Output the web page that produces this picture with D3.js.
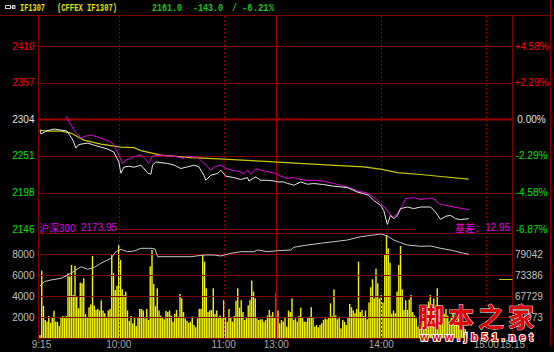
<!DOCTYPE html>
<html><head><meta charset="utf-8">
<script src="https://cdn.jsdelivr.net/npm/d3@7"></script>
<style>html,body{margin:0;padding:0;background:#000;overflow:hidden}</style>
</head><body><svg id="c" width="554" height="352"></svg>
<script>
// ---------- data ----------
const prevClose = 2304;
const pctTicks = [4.58, 2.29, 0, -2.29, -4.58, -6.87];
const priceTickLabels = ["2410", "2357", "2304", "2251", "2198", "2146"];
const pctTickLabels = ["+4.58%", "+2.29%", "0.00%", "-2.29%", "-4.58%", "-6.87%"];
const volTicks = [2000, 4000, 6000, 8000];
const volMax = 10000;
const oiTicks = [62073, 67729, 73386, 79042];
const timeLabels = ["9:15", "10:00", "11:00", "13:00", "14:00", "15:00", "15:15"];
const timeMinutes = [0, 45, 105, 135, 195, 255, 270];
const dashedMinutes = [45, 105, 195, 255];
const middayMinute = 135;
const totalMinutes = 270;

// IF1307 price [minute, price]
const ifPrice = [[0,2288.5],[0.6,2282.8],[3.4,2287.1],[8,2290],[12,2288.5],[15.4,2287.1],[17.7,2278.4],[18.8,2274.1],[20.5,2262.6],[21.7,2266.9],[23.4,2268.3],[27.4,2269.8],[30.8,2266.9],[34.8,2264],[38.8,2261.1],[42.2,2256.8],[45.1,2242.3],[46.2,2226.4],[47.9,2235.1],[50.8,2236.5],[53.7,2235.1],[57.7,2238],[61.5,2226.9],[63.4,2225],[64.3,2238],[66.2,2242.8],[69.1,2241.6],[72.9,2240.5],[76.7,2238],[80.5,2233.2],[84.3,2235.6],[87.9,2238],[90.8,2235.6],[93.6,2223.6],[94.8,2216.3],[97.6,2223.6],[101.4,2226],[103.3,2230.8],[106.2,2222.1],[110.7,2220.2],[114.7,2217.4],[118.6,2220.2],[119.3,2215.3],[123.3,2221.1],[126.1,2216.3],[129.6,2216.3],[133.6,2215.3],[135.7,2213.9],[139.3,2213.9],[141.4,2211.6],[143.3,2210.6],[145,2209.1],[149,2213.9],[152.8,2210.6],[156.4,2211.6],[162.1,2210.1],[167.8,2207.7],[175.6,2205.8],[181.3,2199.4],[184.9,2197.1],[187.8,2194.7],[190.6,2187.5],[194.6,2180.2],[196.4,2173],[198.5,2152.8],[200.3,2165.8],[202.1,2161],[204.2,2165.8],[206.1,2175.5],[209.9,2177.8],[213.5,2175.5],[217.5,2177.8],[223.2,2177.8],[226,2170.6],[228.9,2160],[231.7,2164.4],[234.6,2165.8],[237.5,2161],[240.3,2159.6],[245,2161]];

// CSI 300 index [minute, value]
const hs300 = [[14.8,2308.8],[16.6,2300.1],[17.7,2295.8],[20.5,2284.2],[23.4,2277],[26.3,2279.9],[29.1,2281.3],[34.8,2277],[40.5,2271.2],[42.2,2266.9],[45.1,2252.4],[47.2,2240.5],[49.1,2245.2],[53.7,2250],[57.7,2253.2],[60.5,2246.2],[62.2,2240.5],[64.3,2251],[69.1,2252.4],[74.8,2251],[78.6,2250],[81.5,2247.7],[84.3,2251],[90,2249.1],[92.9,2242.8],[95.7,2235.6],[97.6,2230.8],[99.5,2235.6],[103.3,2238],[106.2,2233.2],[112.8,2229.3],[116.6,2226],[118.6,2230.8],[120.4,2225],[123.3,2233.2],[126.1,2230.8],[133.6,2226.9],[134.7,2225.7],[137.6,2222.1],[141.4,2218.8],[145,2220.2],[149,2217.4],[152.8,2216.3],[156.4,2216.3],[162.1,2214.9],[167.8,2211.6],[175.6,2206.7],[181.3,2200.9],[187,2198],[190.6,2192.2],[194.6,2182.7],[198.5,2173],[200.3,2165.8],[202.1,2163.4],[204.2,2168.2],[207.1,2180.2],[209,2189.9],[213.5,2191.4],[217.5,2188.5],[223.2,2190.8],[224.9,2189.9],[227.8,2182.7],[231.7,2180.2],[236.3,2177.8],[245,2173.95]];

// average price [minute, price]
const avgPrice = [[0,2288.5],[3.4,2287.1],[12,2287.1],[17.7,2284.2],[25.1,2274.1],[34.8,2268.3],[46.2,2264],[53.7,2263.3],[57.7,2259],[69.1,2252.4],[86.2,2248.8],[105,2246.7],[126.1,2243.8],[143.3,2241.3],[166.1,2238],[184.9,2235.5],[194.6,2232.2],[204.3,2227.2],[217.5,2224.6],[228.9,2221.7],[245,2218]];

// open interest [minute, lots]
const openInterest = [[0,70503],[2.5,71662],[6.3,72120],[12,72577],[17.7,73924],[23.4,75702],[27.2,75002],[31,75540],[34.8,76618],[40.5,77965],[43.4,79742],[46.2,80389],[50,79742],[53.8,79931],[57.7,80658],[63.4,80658],[65.7,80470],[67.2,78396],[76.7,78396],[86.2,78396],[93.8,78853],[99.5,78853],[103.3,78584],[109,79311],[114.7,79742],[122.2,79742],[124.3,80200],[130,79742],[135.7,80012],[143.3,80200],[145,80928],[152.8,81547],[160.4,82005],[167.8,82436],[175.6,82894],[183.2,83783],[190.6,84241],[194.6,84510],[198.5,83971],[202.1,82894],[206.1,82166],[209.9,81547],[217.5,81197],[223.2,81278],[228.9,80658],[234.6,80200],[242,79311],[245,79042]];
const oiMarker = 72300;

// per-minute volume
const volMorning = [310,6440,3076,1743,1580,2124,1490,2000,2630,1580,1580,1170,2000,2124,2060,2124,6190,5870,6980,4120,6900,4030,2860,5300,5240,5710,2310,2000,2950,3220,7840,3120,2700,2800,2650,3600,2650,2390,2000,2650,2800,7930,6190,4600,5000,8890,7460,4660,4120,4440,2650,1650,2120,1430,2000,1170,2060,2800,
2800,2650,1900,2800,1750,6850,8410,5170,3060,4760,2650,2170,2000,1810,2600,2500,2650,2170,1580,2330,2700,2060,4220,3800,2500,1900,1680,1490,1580,2060,1270,1050,1900,2800,2800,8030,7300,4760,2500,2650,2700,4760,2330,2650,2000,2170,1900,3630,2000,1580,2800,2000,1580,2120,3570,4760,2920,3630,2500,1750,2000,3140,3630,5500,4440,3800,1900,1750,1810,1810,1580,1750,2170,2700,2170,2500,2000];
const volAfternoon = [4340,2650,
1430,1750,1580,2000,1110,2650,2500,3800,1750,1900,1580,2120,2920,2000,1580,1580,2000,2060,2960,2000,1110,1270,1050,1270,1430,1750,1900,1810,2000,3330,2120,4660,2170,1810,2060,950,1750,1580,1270,2000,3270,2960,2650,2390,2800,7300,2500,2700,2120,2650,1810,3410,4860,5620,3800,6630,5240,3800,4120,3410,7930,9840,8570,7200,2330,2650,2390,4440,6980,8780,4660,2700,3630,2700,3700,4120,2500,2170,1900,1110,
1110,1900,1750,2400,2960,3500,4120,2600,3800,2200,4760,3100,2650,1900,2330,2800,2170,1600,2060,2500,1800,1430,2100,1750,1300,1110,900,650];

// ---------- drawing ----------
const svg = d3.select("#c");
svg.append("rect").attr("width",554).attr("height",352).attr("fill","#000");

const x = d3.scaleLinear().domain([0, totalMinutes]).range([40, 512.5]);
const yPrice = d3.scaleLinear()
  .domain([prevClose*(1+pctTicks[5]/100), prevClose*(1+pctTicks[0]/100)])
  .range([229.3, 46]);
const yVol = d3.scaleLinear().domain([0, volMax]).range([338.3, 233.3]);
const oiStep = (oiTicks[3]-oiTicks[0])/3;
const yOI = d3.scaleLinear().domain([oiTicks[0]-oiStep, oiTicks[3]+oiStep]).range([338.3, 233.3]);

const grid = "#800000";
const snap = v => Math.round(v) + 0.5;
const L = 38.5, R = 512.5;

// frame lines
svg.append("line").attr("x1",0).attr("x2",551).attr("y1",15.5).attr("y2",15.5).attr("stroke",grid);
svg.append("line").attr("x1",L).attr("x2",L).attr("y1",15.5).attr("y2",340).attr("stroke",grid);
svg.append("line").attr("x1",R).attr("x2",R).attr("y1",15.5).attr("y2",340).attr("stroke",grid);
svg.append("line").attr("x1",550.5).attr("x2",550.5).attr("y1",0).attr("y2",346).attr("stroke",grid);

// volume bars
const volData = volMorning.map((v,i)=>({m:i, v})).concat(volAfternoon.map((v,j)=>({m:middayMinute+j, v})));
svg.append("g").selectAll("rect").data(volData).join("rect")
  .attr("x", d => x(d.m) - 0.7).attr("width", 1.4)
  .attr("y", d => yVol(d.v)).attr("height", d => yVol(0) - yVol(d.v))
  .attr("fill", "#f4f400");

// horizontal grid: price
const gH = svg.append("g");
pctTicks.forEach((p,i) => {
  const yy = snap(yPrice(prevClose*(1+p/100)));
  gH.append("line").attr("x1",L).attr("x2",R).attr("y1",yy).attr("y2",yy)
    .attr("stroke", p===0 ? "#a00000" : grid).attr("stroke-width", p===0 ? 2.2 : 1);
});
// volume grid
volTicks.concat([0, volMax]).forEach(v => {
  const yy = snap(yVol(v));
  gH.append("line").attr("x1",L).attr("x2",R).attr("y1",yy).attr("y2",yy).attr("stroke",grid);
});

// vertical grid
dashedMinutes.forEach(m => {
  svg.append("line").attr("x1",snap(x(m))).attr("x2",snap(x(m))).attr("y1",16).attr("y2",338)
    .attr("stroke",grid).attr("stroke-dasharray","2,2");
});
svg.append("line").attr("x1",snap(x(middayMinute))).attr("x2",snap(x(middayMinute))).attr("y1",16).attr("y2",338)
  .attr("stroke","#a00000");

// lines
const line = d3.line().x(d => x(d[0]));
svg.append("path").datum(avgPrice).attr("d", line.y(d => yPrice(d[1]))).attr("fill","none").attr("stroke","#c8c800").attr("stroke-width",1.2);
svg.append("path").datum(hs300).attr("d", line.y(d => yPrice(d[1]))).attr("fill","none").attr("stroke","#e000e0").attr("stroke-width",1);
svg.append("path").datum(ifPrice).attr("d", line.y(d => yPrice(d[1]))).attr("fill","none").attr("stroke","#e8e8e8").attr("stroke-width",1);
svg.append("path").datum(openInterest).attr("d", line.y(d => yOI(d[1]))).attr("fill","none").attr("stroke","#c8c8c8").attr("stroke-width",1);
svg.append("line").attr("x1",499).attr("x2",R).attr("y1",snap(yOI(oiMarker))).attr("y2",snap(yOI(oiMarker))).attr("stroke","#c8c800");

// label boxes in price panel bottom
svg.append("rect").attr("x",39).attr("y",221).attr("width",76).attr("height",11).attr("fill","#000");
svg.append("rect").attr("x",415).attr("y",221).attr("width",97).attr("height",11).attr("fill","#000");
const mag = "#e000e0";
const tf = "'Liberation Sans', Arial, sans-serif";
svg.append("text").attr("x",39).attr("y",227.5).attr("dominant-baseline","central").attr("fill",mag)
  .attr("font-family","'Noto Sans CJK SC', sans-serif").attr("font-size",10).text("沪深300");
svg.append("text").attr("x",81).attr("y",227.5).attr("dominant-baseline","central").attr("fill",mag)
  .attr("font-family",tf).attr("font-size",10).text("2173.95");
svg.append("text").attr("x",455).attr("y",227.5).attr("dominant-baseline","central").attr("fill",mag)
  .attr("font-family","'Noto Sans CJK SC', sans-serif").attr("font-size",10).text("基差：");
svg.append("text").attr("x",485).attr("y",227.5).attr("dominant-baseline","central").attr("fill",mag)
  .attr("font-family",tf).attr("font-size",10).text("12.95");

// axis labels
const colorFor = p => p > 0 ? "#ff0000" : (p < 0 ? "#00e000" : "#e0e0e0");
pctTicks.forEach((p,i) => {
  const yy = yPrice(prevClose*(1+p/100));
  svg.append("text").attr("x",34.5).attr("y",yy).attr("text-anchor","end").attr("dominant-baseline","central")
    .attr("fill",colorFor(p)).attr("font-family",tf).attr("font-size",10).text(priceTickLabels[i]);
  svg.append("text").attr("x",531.5).attr("y",yy).attr("text-anchor","middle").attr("dominant-baseline","central")
    .attr("fill",colorFor(p)).attr("font-family",tf).attr("font-size",10).text(pctTickLabels[i]);
});
volTicks.forEach(v => {
  svg.append("text").attr("x",34.5).attr("y",yVol(v)).attr("text-anchor","end").attr("dominant-baseline","central")
    .attr("fill","#c0c0c0").attr("font-family",tf).attr("font-size",10).text(v);
});
oiTicks.forEach(v => {
  svg.append("text").attr("x",515).attr("y",yOI(v)).attr("dominant-baseline","central")
    .attr("fill","#c0c0c0").attr("font-family",tf).attr("font-size",10).text(v);
});
timeLabels.forEach((t,i) => {
  svg.append("text").attr("x", x(timeMinutes[i]) + (i===0 ? 1.5 : 0)).attr("y",344.5).attr("text-anchor","middle").attr("dominant-baseline","central")
    .attr("fill","#a8a8a8").attr("font-family",tf).attr("font-size",10).text(t);
});

// header
const hg = svg.append("g");
hg.append("rect").attr("x",5.5).attr("y",5.5).attr("width",5).attr("height",3).attr("fill","none").attr("stroke","#d0d0d0");
hg.append("line").attr("x1",10.5).attr("x2",15).attr("y1",7).attr("y2",7).attr("stroke","#d0d0d0");
hg.append("rect").attr("x",12.5).attr("y",5.5).attr("width",2.5).attr("height",3).attr("fill","none").attr("stroke","#d0d0d0");
const mono = "'Liberation Mono', 'DejaVu Sans Mono', monospace";
const hdr = [
  {t:"IF1307", x:20, w:25, c:"#e0e000"},
  {t:"(CFFEX IF1307)", x:57, w:60, c:"#e0e000"},
  {t:"2161.0", x:152, w:30, c:"#20c020"},
  {t:"-143.0", x:193, w:30, c:"#20c020"},
  {t:"/", x:232, w:5, c:"#20c020"},
  {t:"-6.21%", x:242, w:32, c:"#20c020"}
];
hdr.forEach(h => {
  hg.append("text").attr("x",h.x).attr("y",11).attr("fill",h.c).attr("font-family",mono).attr("font-weight","bold")
    .attr("font-size",11).attr("textLength",h.w).attr("lengthAdjust","spacingAndGlyphs").text(h.t);
});

// watermark
const wm = svg.append("g");
wm.append("text").attr("x",418).attr("y",327).attr("fill","#e00000").attr("stroke","#ffffff").attr("stroke-width",0.8)
  .attr("paint-order","stroke").attr("font-family","'Noto Sans CJK SC', sans-serif").attr("font-weight","bold")
  .attr("font-size",26).attr("textLength",116).attr("lengthAdjust","spacing").text("脚本之家");
wm.append("text").attr("x",420).attr("y",341).attr("fill","#e00000").attr("stroke","#ffffff").attr("stroke-width",2)
  .attr("paint-order","stroke").attr("font-family",tf).attr("font-weight","bold")
  .attr("font-size",11).attr("textLength",113).attr("lengthAdjust","spacing").text("www.jb51.net");
</script>
</body></html>
